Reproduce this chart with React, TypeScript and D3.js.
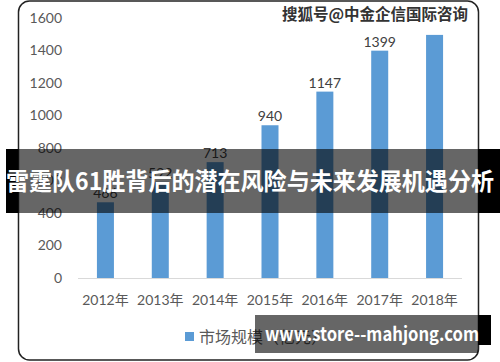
import React from "react";
import * as d3 from "d3";

const years = ["2012年", "2013年", "2014年", "2015年", "2016年", "2017年", "2018年"];
const marketSize = [466, 592, 713, 940, 1147, 1399, 1496];
const shownLabels = [true, true, true, true, true, true, false];
const yTicks = [0, 200, 400, 600, 800, 1000, 1200, 1400, 1600];
const legendLabel = "市场规模（亿元）";
const titleText = "雷霆队61胜背后的潜在风险与未来发展机遇分析";
const watermarkText = "搜狐号@中金企信国际咨询";
const siteText = "www.store--mahjong.com";

const W = 500;
const H = 362;
const LAT = "Lato, 'Noto Sans CJK SC', sans-serif";
const CJK = "'Noto Sans CJK SC', 'Noto Sans', sans-serif";

export default function App() {
  const x = d3.scaleBand<string>().domain(years).range([78, 462]).paddingInner(0.69).paddingOuter(0.345);
  const y = d3.scaleLinear().domain([0, 1600]).range([278, 18]);

  return (
    <svg width={W} height={H} style={{ position: "absolute", left: 0, top: 0, background: "#fff" }}>
      <rect x={0} y={0} width={W} height={H} fill="#fff" />
      {/* frame */}
      <rect x={18.5} y={1} width={460} height={359} rx={11} ry={11} fill="#fff" stroke="#222" strokeWidth={1.5} />
      {/* y tick labels */}
      {yTicks.map((t) => (
        <text key={t} x={62} y={y(t)} dy="0.35em" textAnchor="end" fontFamily={LAT} fontSize={14} fill="#595959">
          {t}
        </text>
      ))}
      {/* baseline */}
      <line x1={78} x2={462} y1={y(0) + 0.5} y2={y(0) + 0.5} stroke="#d9d9d9" strokeWidth={1} />
      {/* bars */}
      {years.map((yr, i) => (
        <rect key={yr} x={x(yr)} y={y(marketSize[i])} width={x.bandwidth()} height={y(0) - y(marketSize[i])} fill="#5b9bd5" />
      ))}
      {/* value labels */}
      {years.map((yr, i) =>
        shownLabels[i] ? (
          <text key={yr} x={(x(yr) as number) + x.bandwidth() / 2} y={y(marketSize[i]) - 4} textAnchor="middle" fontFamily={LAT} fontSize={14} fill="#404040">
            {marketSize[i]}
          </text>
        ) : null
      )}
      {/* x tick labels */}
      {years.map((yr) => (
        <text key={yr} x={(x(yr) as number) + x.bandwidth() / 2} y={300} dy="0.35em" textAnchor="middle" fontFamily={LAT} fontSize={14} fill="#595959">
          {yr}
        </text>
      ))}
      {/* legend */}
      <rect x={185} y={332} width={9} height={9} fill="#5b9bd5" />
      <text x={199} y={337} dy="0.35em" fontFamily={CJK} fontSize={16} fill="#595959">
        {legendLabel}
      </text>
      {/* watermark top */}
      <text x={468} y={15} dy="0.35em" textAnchor="end" fontFamily={CJK} fontSize={15.5} fontWeight={700} fill="#333" stroke="#fff" strokeWidth={3} paintOrder="stroke">
        {watermarkText}
      </text>
      {/* title banner */}
      <rect x={6} y={149} width={12} height={64} fill="#000" />
      <rect x={478} y={149} width={22} height={64} fill="#000" />
      <rect x={18} y={149} width={460} height={64} fill="rgba(0,0,0,0.6)" />
      <text x={250} y={182} dy="0.35em" textAnchor="middle" fontFamily={CJK} fontSize={24} fontWeight={700} fill="#fff" textLength={488} lengthAdjust="spacingAndGlyphs">
        {titleText}
      </text>
      {/* bottom banner */}
      <rect x={478} y={315} width={13} height={30} fill="#000" />
      <rect x={255} y={315} width={223} height={38} fill="rgba(0,0,0,0.6)" />
      <text x={265} y={335} dy="0.35em" fontFamily={CJK} fontSize={18.5} fontWeight={700} fill="#fff" textLength={214} lengthAdjust="spacingAndGlyphs">
        {siteText}
      </text>
    </svg>
  );
}
